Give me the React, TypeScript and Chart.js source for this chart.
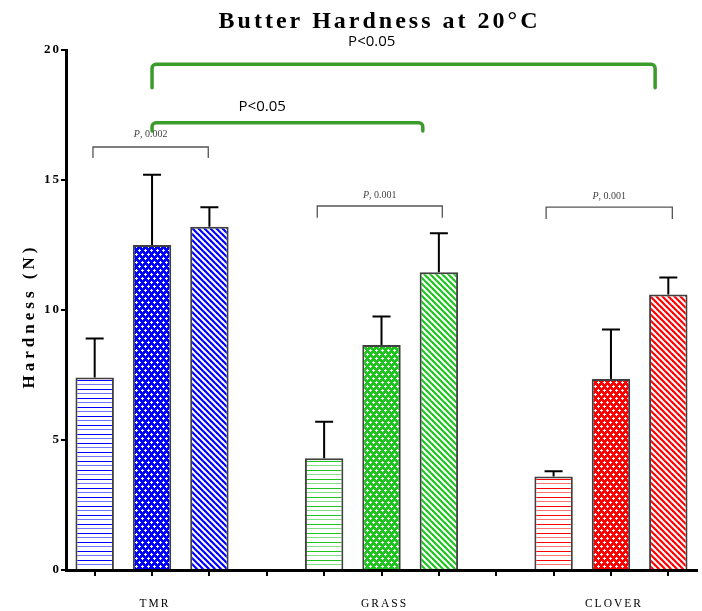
import React, { useEffect, useRef } from 'react';
import { Chart, registerables } from 'chart.js';

Chart.register(...registerables);

// ---- data ----
const groupNames = ['TMR', 'GRASS', 'CLOVER'];
const tmrValues = [7.4, 12.5, 13.2];
const tmrErrors = [1.5, 2.7, 0.75];
const grassValues = [4.3, 8.65, 11.45];
const grassErrors = [1.4, 1.1, 1.5];
const cloverValues = [3.6, 7.35, 10.6];
const cloverErrors = [0.2, 1.9, 0.65];
const groupColors = ['#0000ff', '#1fc41f', '#ff0000'];
const barPatterns = ['h', 'dots', 'diag'];
const yTicks = [0, 5, 10, 15, 20];

const chartTitle = 'Butter Hardness at 20°C';
const yTitle = 'Hardness (N)';

// significance brackets (category index / value units)
const greenLabels = ['P<0.05', 'P<0.05'];
const greenFrom = [1, 1];
const greenTo = [9.77, 5.72];
const greenTop = [19.45, 17.2];
const greenLeg = [18.55, 16.88];
const greenLabelX = [4.83, 2.92];
const greenLabelY = [20.3, 17.8];

const pLabels = ['0.002', '0.001', '0.001'];
const pFrom = [-0.03, 3.88, 7.87];
const pTo = [1.98, 6.06, 10.07];
const pTop = [16.27, 14.0, 13.96];
const pLeg = [15.85, 13.55, 13.5];
const pLabelY = [16.75, 14.42, 14.38];

// build category table
const allValues: (number | null)[] = [...tmrValues, null, ...grassValues, null, ...cloverValues];
const allErrors: (number | null)[] = [...tmrErrors, null, ...grassErrors, null, ...cloverErrors];
const labels = allValues.map((_, i) => `c${i}`);

function makePattern(kind: string, color: string): CanvasPattern | string {
  const c = document.createElement('canvas');
  const w = kind === 'h' ? 6 : 6;
  const h = kind === 'h' ? 9 : kind === 'dots' ? 8 : 6;
  c.width = w;
  c.height = h;
  const g = c.getContext('2d');
  if (!g) return color;
  if (kind === 'h') {
    g.fillStyle = '#ffffff';
    g.fillRect(0, 0, w, h);
    g.fillStyle = color;
    g.fillRect(0, 2, w, 1);
    g.globalAlpha = 0.55;
    g.fillRect(0, 6, w, 1);
    g.globalAlpha = 1;
  } else if (kind === 'dots') {
    g.fillStyle = color;
    g.fillRect(0, 0, w, h);
    g.fillStyle = '#ffffff';
    const pts = [[1, 2], [4, 6]];
    pts.forEach(([x, y]) => {
      g.fillRect(x - 1, y, 3, 1);
      g.fillRect(x, y - 1, 1, 3);
    });
  } else {
    g.fillStyle = '#ffffff';
    g.fillRect(0, 0, w, h);
    g.strokeStyle = color;
    g.lineWidth = 2.2;
    for (const x0 of [-w, 0, w]) {
      g.beginPath();
      g.moveTo(x0 - 1, -1);
      g.lineTo(x0 + w + 1, h + 1);
      g.stroke();
    }
  }
  return g.createPattern(c, 'repeat') || color;
}

function drawSpaced(ctx: CanvasRenderingContext2D, text: string, x: number, y: number, spacing: number) {
  (ctx as any).letterSpacing = `${spacing}px`;
  const w = ctx.measureText(text).width;
  const align = ctx.textAlign;
  let sx = x;
  if (align === 'center') sx = x - (w - spacing) / 2;
  else if (align === 'right') sx = x - (w - spacing);
  ctx.textAlign = 'left';
  ctx.fillText(text, sx, y);
  ctx.textAlign = align;
  (ctx as any).letterSpacing = '0px';
}

const overlayPlugin = {
  id: 'overlay',
  afterDatasetsDraw(chart: any) {
    const ctx: CanvasRenderingContext2D = chart.ctx;
    const ys = chart.scales.y;
    const meta = chart.getDatasetMeta(0);
    ctx.save();
    ctx.strokeStyle = '#000';
    ctx.lineWidth = 2;
    meta.data.forEach((bar: any, i: number) => {
      const v = allValues[i];
      const e = allErrors[i];
      if (v == null || e == null) return;
      const yTop = ys.getPixelForValue(v);
      const yErr = ys.getPixelForValue(v + e);
      ctx.beginPath();
      ctx.moveTo(bar.x, yTop);
      ctx.lineTo(bar.x, yErr);
      ctx.moveTo(bar.x - 9, yErr);
      ctx.lineTo(bar.x + 9, yErr);
      ctx.stroke();
    });
    ctx.restore();
  },
  afterDraw(chart: any) {
    const ctx: CanvasRenderingContext2D = chart.ctx;
    const xs = chart.scales.x;
    const ys = chart.scales.y;
    ctx.save();
    ctx.fillStyle = '#000';
    ctx.textBaseline = 'middle';

    // title
    ctx.font = 'bold 24px "Liberation Serif", serif';
    ctx.textAlign = 'center';
    drawSpaced(ctx, chartTitle, 378, 22, 3);

    // y title
    ctx.save();
    ctx.translate(30, 318);
    ctx.rotate(-Math.PI / 2);
    ctx.font = 'bold 17px "Liberation Serif", serif';
    ctx.textAlign = 'center';
    drawSpaced(ctx, yTitle, 0, 0, 4);
    ctx.restore();

    // y tick labels
    ctx.font = 'bold 13px "Liberation Serif", serif';
    ctx.textAlign = 'right';
    yTicks.forEach((t) => {
      drawSpaced(ctx, String(t), 59, ys.getPixelForValue(t), 2);
    });

    // group labels
    ctx.font = '11.5px "Liberation Serif", serif';
    ctx.textAlign = 'center';
    groupNames.forEach((n, gi) => {
      const idx = gi * 4 + 1;
      drawSpaced(ctx, n, xs.getPixelForValue(idx) + 2, 604, 2);
    });

    // green brackets
    ctx.strokeStyle = '#3b9b2b';
    ctx.lineWidth = 3.5;
    ctx.lineCap = 'round';
    greenLabels.forEach((lab, i) => {
      const x1 = xs.getPixelForValue(greenFrom[i]);
      const x2 = xs.getPixelForValue(greenTo[i]);
      const yT = ys.getPixelForValue(greenTop[i]);
      const yL = ys.getPixelForValue(greenLeg[i]);
      const r = 4;
      ctx.beginPath();
      ctx.moveTo(x1, yL);
      ctx.lineTo(x1, yT + r);
      ctx.arcTo(x1, yT, x1 + r, yT, r);
      ctx.lineTo(x2 - r, yT);
      ctx.arcTo(x2, yT, x2, yT + r, r);
      ctx.lineTo(x2, yL);
      ctx.stroke();
      ctx.font = '15px "Open Sans", sans-serif';
      ctx.textAlign = 'center';
      ctx.fillStyle = '#000';
      ctx.fillText(lab, xs.getPixelForValue(greenLabelX[i]), ys.getPixelForValue(greenLabelY[i]));
    });

    // small P brackets
    ctx.strokeStyle = '#555';
    ctx.lineWidth = 1.3;
    ctx.lineCap = 'butt';
    pLabels.forEach((lab, i) => {
      const x1 = xs.getPixelForValue(pFrom[i]);
      const x2 = xs.getPixelForValue(pTo[i]);
      const yT = ys.getPixelForValue(pTop[i]);
      const yL = ys.getPixelForValue(pLeg[i]);
      ctx.beginPath();
      ctx.moveTo(x1, yL);
      ctx.lineTo(x1, yT);
      ctx.lineTo(x2, yT);
      ctx.lineTo(x2, yL);
      ctx.stroke();
      const cx = (x1 + x2) / 2;
      const cy = ys.getPixelForValue(pLabelY[i]);
      ctx.fillStyle = '#444';
      ctx.font = 'italic 10px "Liberation Serif", serif';
      const pw = ctx.measureText('P').width;
      ctx.font = '10px "Liberation Serif", serif';
      const rest = ', ' + lab;
      const rw = ctx.measureText(rest).width;
      const sx = cx - (pw + rw) / 2;
      ctx.textAlign = 'left';
      ctx.font = 'italic 10px "Liberation Serif", serif';
      ctx.fillText('P', sx, cy);
      ctx.font = '10px "Liberation Serif", serif';
      ctx.fillText(rest, sx + pw, cy);
    });

    ctx.restore();
  },
};

export default function App() {
  const ref = useRef<HTMLCanvasElement | null>(null);
  useEffect(() => {
    if (!ref.current) return;
    const bg: any[] = [];
    const groupsData = [tmrValues, grassValues, cloverValues];
    groupsData.forEach((vals, gi) => {
      vals.forEach((_, bi) => bg.push(makePattern(barPatterns[bi], groupColors[gi])));
      if (gi < groupsData.length - 1) bg.push('rgba(0,0,0,0)');
    });
    const chart = new Chart(ref.current, {
      type: 'bar',
      data: {
        labels,
        datasets: [
          {
            data: allValues as any,
            backgroundColor: bg,
            borderColor: '#404040',
            borderWidth: 2,
            barPercentage: 0.67,
            categoryPercentage: 1,
          },
        ],
      },
      options: {
        responsive: false,
        animation: false,
        devicePixelRatio: 1,
        layout: { padding: { top: 50, right: 5, left: 0, bottom: 0 } },
        plugins: {
          legend: { display: false },
          tooltip: { enabled: false },
          title: { display: false },
        },
        scales: {
          x: {
            type: 'category',
            offset: true,
            ticks: { display: false },
            grid: {
              display: true,
              offset: false,
              drawOnChartArea: false,
              drawTicks: true,
              tickLength: 6,
              color: '#000',
              lineWidth: 2,
            },
            border: { display: true, color: '#000', width: 3 },
            afterFit: (s: any) => {
              s.height = 41;
            },
          },
          y: {
            min: 0,
            max: 20,
            ticks: { display: false, stepSize: 5 },
            grid: {
              display: true,
              drawOnChartArea: false,
              drawTicks: true,
              tickLength: 5,
              color: '#000',
              lineWidth: 2,
            },
            border: { display: true, color: '#000', width: 3 },
            afterFit: (s: any) => {
              s.width = 66;
            },
          },
        },
      },
      plugins: [overlayPlugin],
    });
    return () => chart.destroy();
  }, []);
  return (
    <div style={{ position: 'absolute', left: 0, top: 0, width: 702, height: 611, background: '#fff' }}>
      <canvas ref={ref} width={702} height={611} style={{ display: 'block' }} />
    </div>
  );
}
